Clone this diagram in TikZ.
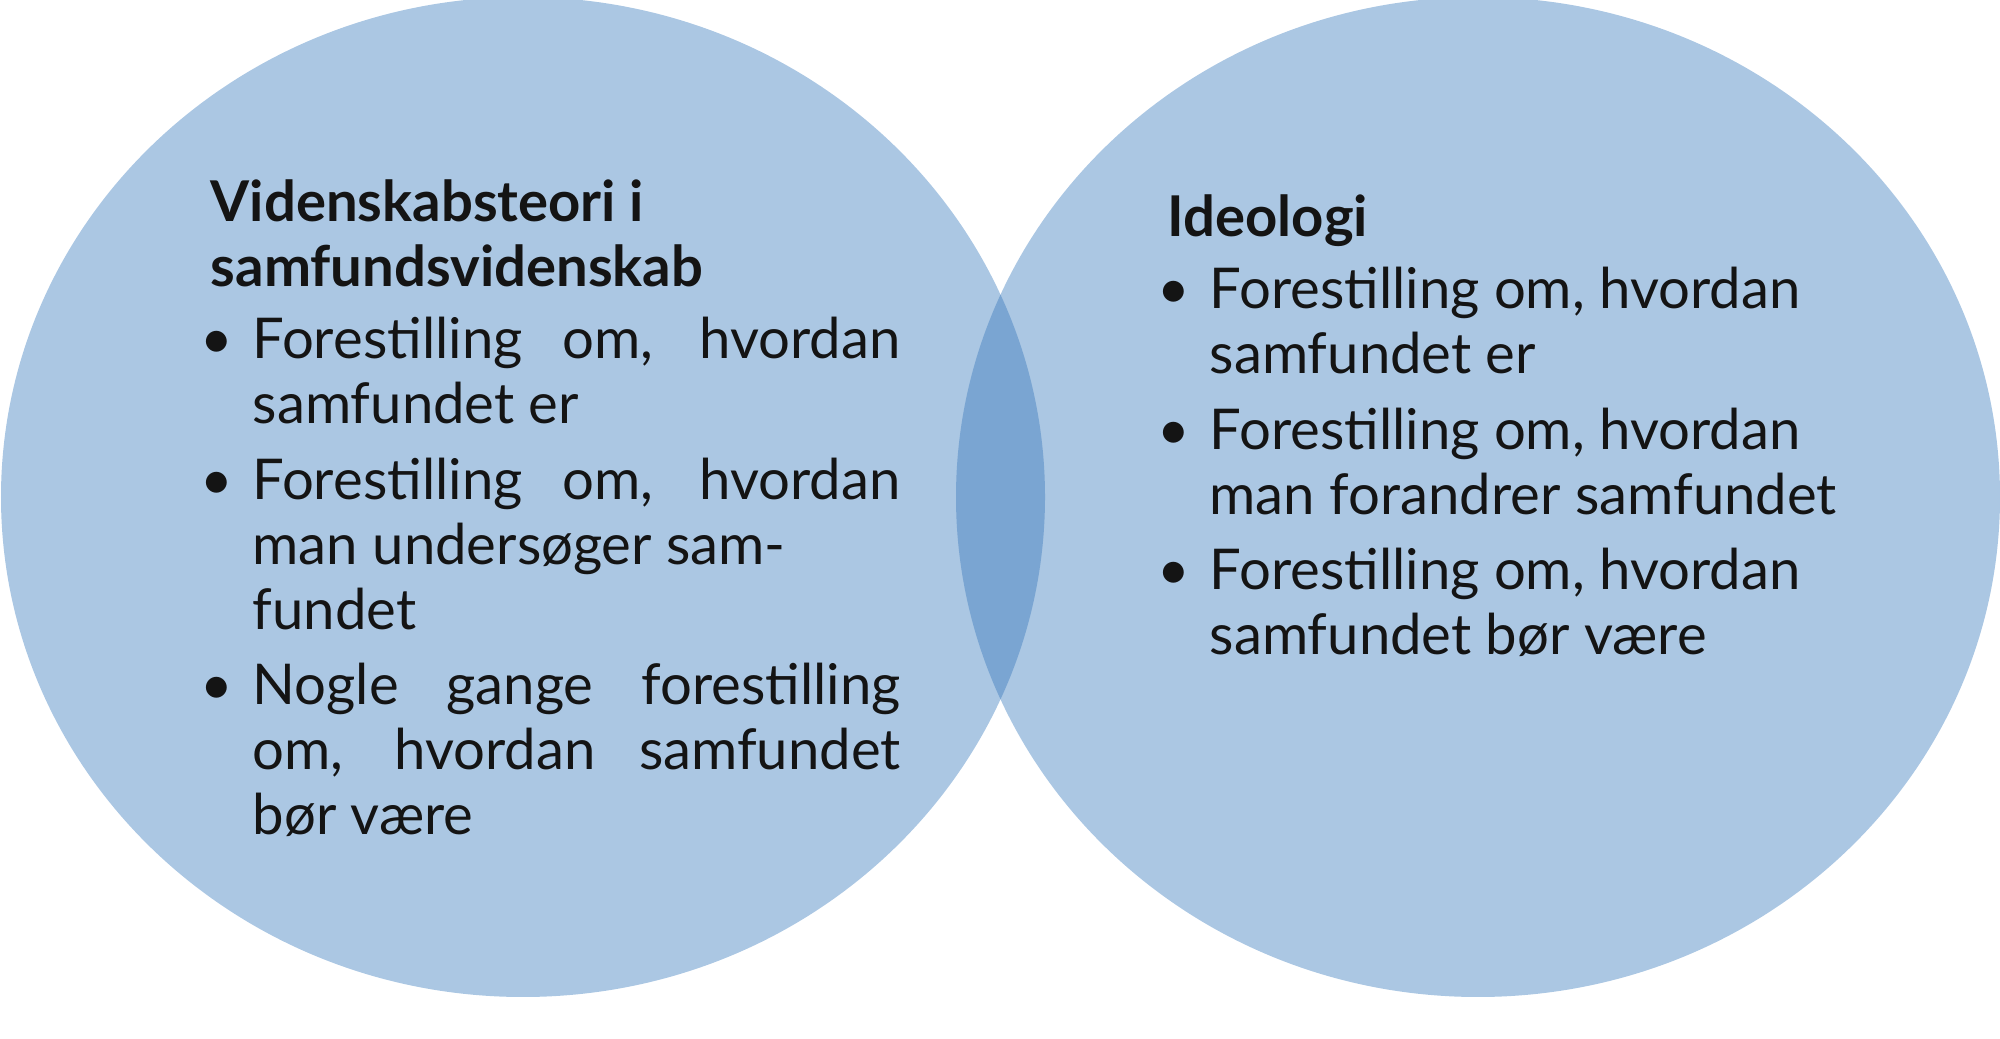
\documentclass[tikz,border=0pt]{standalone}
\usepackage{fontspec}
\setmainfont{Lato}
\usepackage{enumitem}
\usetikzlibrary{positioning}
\definecolor{circleblue}{RGB}{171, 199, 227}
\definecolor{overlapblue}{RGB}{122, 165, 210}
\definecolor{textblack}{RGB}{20, 20, 20}
\tikzset{
    venn/.style={fill=circleblue, draw=none},
    listbox/.style={anchor=north west, inner sep=0pt, text=textblack, font=\fontsize{16}{18.5}\selectfont}
}
\setlist[itemize]{label=\textbullet, leftmargin=0.42cm, labelsep=0.2cm, itemsep=3pt, topsep=2pt, parsep=0pt}

\begin{document}
\begin{tikzpicture}
    \useasboundingbox (0,0) rectangle (20,10.39);
    % circles
    \fill[venn] (5.23,5.42) ellipse [x radius=5.22, y radius=5.0];
    \fill[venn] (14.78,5.42) ellipse [x radius=5.22, y radius=5.0];
    \begin{scope}
        \clip (5.23,5.42) ellipse [x radius=5.22, y radius=5.0];
        \fill[overlapblue] (14.78,5.42) ellipse [x radius=5.22, y radius=5.0];
    \end{scope}
    % left text
    \node[listbox] (left) at (2.1,8.6) {
        \begin{minipage}{6.9cm}
            {\bfseries Videnskabsteori i\\samfundsvidenskab}
            \begin{itemize}
                \item Forestilling om, hvordan samfundet er
                \item Forestilling om, hvordan man undersøger sam-\\fundet
                \item Nogle gange forestilling om, hvordan samfundet bør være
            \end{itemize}
        \end{minipage}
    };
    % right text
    \node[listbox] (right) at (11.67,8.45) {
        \begin{minipage}{7.2cm}
            {\bfseries Ideologi}
            \begin{itemize}
                \item Forestilling om, hvordan\\samfundet er
                \item Forestilling om, hvordan\\man forandrer samfundet
                \item Forestilling om, hvordan\\samfundet bør være
            \end{itemize}
        \end{minipage}
    };
\end{tikzpicture}
\end{document}
